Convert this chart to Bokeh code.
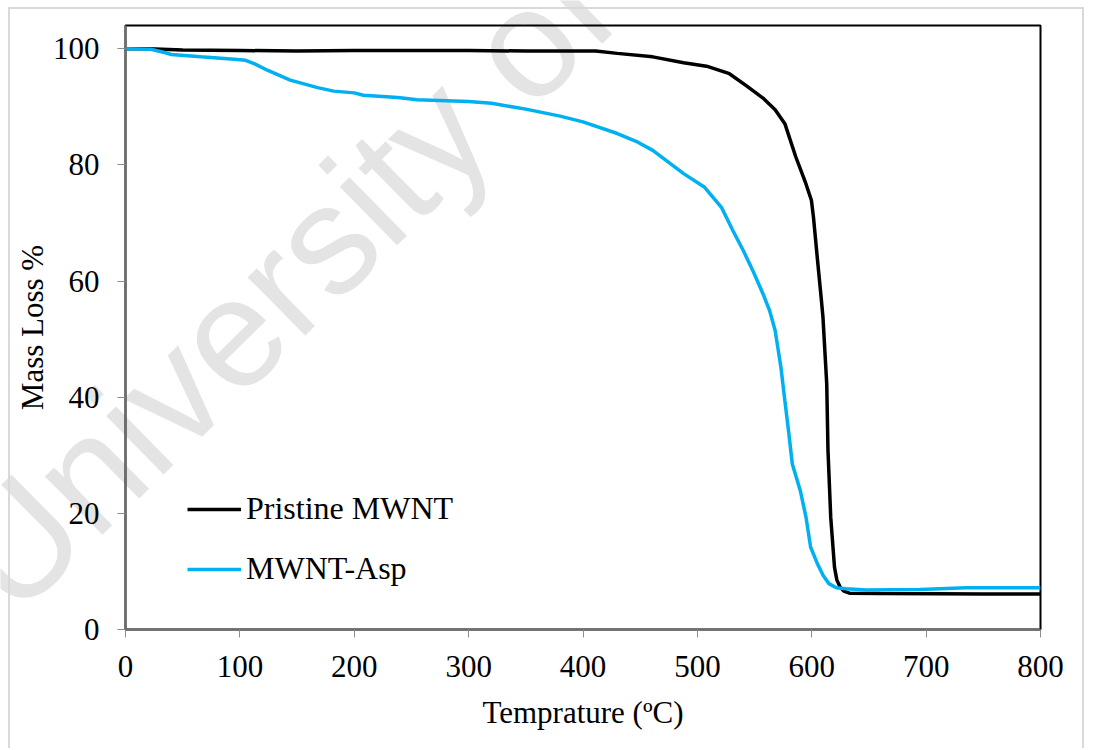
import math
from bokeh.plotting import figure
from bokeh.models import Range1d, Legend, LegendItem, FixedTicker
from bokeh.core.properties import value
from bokeh.embed import file_html
from bokeh.resources import INLINE

# ---- data ----
temp_pristine = [0, 20, 50, 100, 150, 200, 250, 300, 350, 400, 411, 430, 461, 488, 508,
                 528, 543, 558, 568, 576.5, 586, 594.8, 599.7, 601.5, 604.8, 608.2, 609.8,
                 613.1, 614.2, 616.6, 619.9, 622, 624.8, 628, 633, 660, 708, 750, 800]
mass_pristine = [100, 100, 99.8, 99.7, 99.6, 99.7, 99.7, 99.7, 99.6, 99.6, 99.6, 99.2,
                 98.6, 97.6, 97.0, 95.7, 93.6, 91.4, 89.5, 87.1, 81.4, 76.8, 73.9, 71.0,
                 64.1, 57.2, 53.8, 42.3, 30.8, 19.3, 10.7, 8.5, 7.3, 6.6, 6.25, 6.2, 6.15,
                 6.1, 6.1]

temp_asp = [0, 22, 35, 40, 66, 95, 105, 113, 124, 144, 168, 182, 200, 208, 238, 255, 300,
            320, 350, 380, 400, 430, 448, 461, 488, 506, 521, 531, 540, 548, 558, 563, 568,
            573, 576.5, 580, 583, 590, 595, 599, 605, 610, 615, 621.5, 630, 648, 695, 735, 800]
mass_asp = [100, 99.9, 99.3, 99.0, 98.6, 98.2, 98.0, 97.4, 96.3, 94.6, 93.3, 92.7, 92.4,
            92.0, 91.6, 91.2, 90.9, 90.6, 89.6, 88.4, 87.4, 85.4, 83.9, 82.5, 78.5, 76.2,
            72.7, 68.7, 65.3, 62.0, 57.5, 55.0, 51.5, 45.2, 39.4, 33.7, 28.5, 23.9, 19.3,
            14.2, 11.3, 9.3, 7.9, 7.2, 7.0, 6.8, 6.9, 7.2, 7.2]

x_ticks = [0, 100, 200, 300, 400, 500, 600, 700, 800]
y_ticks = [0, 20, 40, 60, 80, 100]

series_names = ["Pristine MWNT", "MWNT-Asp"]
x_title = "Temprature (ºC)"
y_title = "Mass Loss %"
watermark = ["University of"]

SERIF = "Liberation Serif"

# ---- background layer: the faint watermark across the whole picture ----
bg = figure(width=1098, height=750, output_backend="svg", toolbar_location=None,
            x_range=Range1d(0, 1098), y_range=Range1d(750, 0),
            x_axis_type=None, y_axis_type=None, min_border=0,
            outline_line_color=None, background_fill_color="white",
            border_fill_color="white")
bg.text(x=[-23], y=[582], text=watermark, angle=math.radians(44.5),
        text_font=value("Liberation Sans"), text_font_size=value("155px"),
        text_color="#e4e4e4", text_baseline="alphabetic", text_align="left")

# ---- the chart itself, laid transparently over the watermark ----
p = figure(width=1076, height=741, output_backend="svg", toolbar_location=None,
           x_range=Range1d(0, 800), y_range=Range1d(0, 104),
           min_border_left=115, min_border_right=46, min_border_top=16,
           min_border_bottom=121, background_fill_alpha=0, border_fill_alpha=0)
p.styles = {"position": "absolute", "left": "8px", "top": "7px",
            "border-left": "2px solid #d9d9d9", "border-top": "2px solid #d9d9d9",
            "border-right": "2px solid #d9d9d9"}

p.xgrid.visible = False
p.ygrid.visible = False
p.outline_line_color = "black"
p.outline_line_width = 2

for ax in (p.xaxis[0], p.yaxis[0]):
    ax.axis_line_color = "#6e6e6e"
    ax.axis_line_width = 2
    ax.major_tick_line_color = "#8c8c8c"
    ax.major_tick_line_width = 1
    ax.major_tick_out = 8
    ax.major_tick_in = 0
    ax.minor_tick_line_color = None
    ax.major_label_text_font = SERIF
    ax.major_label_text_font_size = "31px"
    ax.major_label_text_color = "black"
    ax.axis_label_text_font = SERIF
    ax.axis_label_text_font_size = "31px"
    ax.axis_label_text_font_style = "normal"
    ax.axis_label_text_color = "black"

p.xaxis.ticker = FixedTicker(ticks=x_ticks)
p.yaxis.ticker = FixedTicker(ticks=y_ticks)
p.xaxis.axis_label = x_title
p.yaxis.axis_label = y_title
p.xaxis.major_label_standoff = 18
p.yaxis.major_label_standoff = 18
p.xaxis.axis_label_standoff = 15
p.yaxis.axis_label_standoff = 0

r1 = p.line(temp_pristine, mass_pristine, line_color="black", line_width=3.5)
r2 = p.line(temp_asp, mass_asp, line_color="#00B0F0", line_width=3.5)

legend = Legend(items=[LegendItem(label=series_names[0], renderers=[r1]),
                       LegendItem(label=series_names[1], renderers=[r2])],
                location=(62, 42), orientation="vertical",
                glyph_width=54, glyph_height=30, label_height=30, spacing=23,
                label_standoff=5, padding=0, margin=0,
                label_text_font=SERIF, label_text_font_size="32px",
                label_text_color="black",
                border_line_alpha=0, background_fill_alpha=0)
p.add_layout(legend)

open("out.html", "w").write(file_html([bg, p], INLINE))
